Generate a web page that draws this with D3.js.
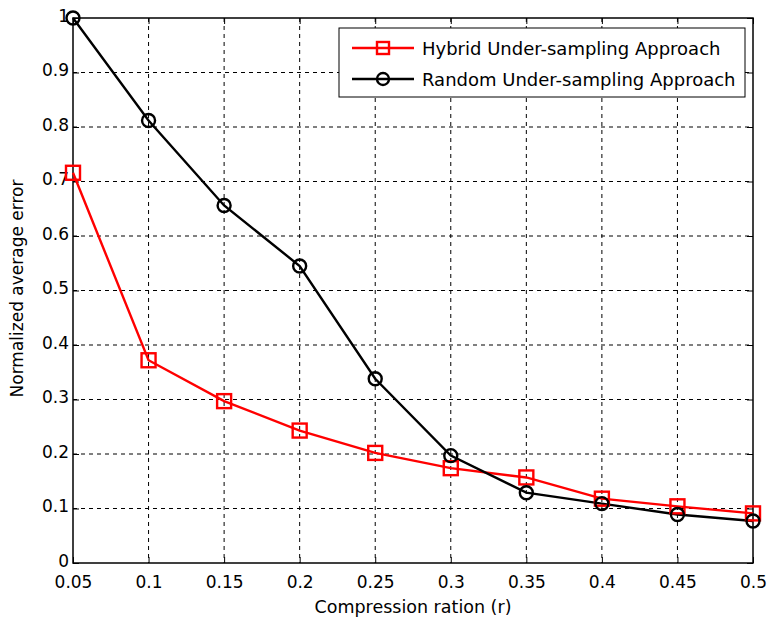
<!DOCTYPE html>
<html>
<head>
<meta charset="utf-8">
<script src="https://cdn.jsdelivr.net/npm/d3@7"></script>
<style>
  body { margin: 0; background: #fff; }
  svg { display: block; font-family: "DejaVu Sans", sans-serif; }
</style>
</head>
<body>
<svg width="771" height="621"></svg>
<script>
// Données du graphique
const ratios = [0.05, 0.1, 0.15, 0.2, 0.25, 0.3, 0.35, 0.4, 0.45, 0.5];
const hybrid = [0.716, 0.372, 0.297, 0.243, 0.202, 0.174, 0.157, 0.118, 0.104, 0.091];
const random = [1.0, 0.812, 0.656, 0.545, 0.338, 0.197, 0.129, 0.109, 0.089, 0.077];
const yTicks = [0, 0.1, 0.2, 0.3, 0.4, 0.5, 0.6, 0.7, 0.8, 0.9, 1];
const xTickLabels = ["0.05", "0.1", "0.15", "0.2", "0.25", "0.3", "0.35", "0.4", "0.45", "0.5"];
const seriesNames = ["Hybrid Under-sampling Approach", "Random Under-sampling Approach"];

const svg = d3.select("svg");
const mLeft = 73, mRight = 753, mTop = 18, mBottom = 563;

const x = d3.scaleLinear().domain([0.05, 0.5]).range([mLeft, mRight]);
const y = d3.scaleLinear().domain([0, 1]).range([mBottom, mTop]);

// Grille en pointillés
const grid = svg.append("g").attr("stroke", "#000").attr("stroke-width", 1)
    .attr("stroke-dasharray", "4,4");
grid.selectAll("line.v").data(ratios.slice(1, -1)).enter().append("line")
    .attr("x1", d => x(d)).attr("x2", d => x(d))
    .attr("y1", mTop).attr("y2", mBottom);
grid.selectAll("line.h").data(yTicks.slice(1, -1)).enter().append("line")
    .attr("x1", mLeft).attr("x2", mRight)
    .attr("y1", d => y(d)).attr("y2", d => y(d));

// Axes (ticks vers l'intérieur)
svg.append("g").attr("transform", `translate(0,${mBottom})`)
    .call(d3.axisBottom(x).tickValues(ratios).tickSize(-6).tickPadding(13)
        .tickFormat((d, i) => xTickLabels[i]));
svg.append("g").attr("transform", `translate(${mLeft},-2)`)
    .call(d3.axisLeft(y).tickValues(yTicks).tickSize(0).tickPadding(4)
        .tickFormat(d3.format("")));
svg.append("g").attr("transform", `translate(${mLeft},0)`)
    .call(d3.axisLeft(y).tickValues(yTicks).tickSize(-6).tickFormat(""));
svg.append("g").attr("transform", `translate(0,${mTop})`)
    .call(d3.axisTop(x).tickValues(ratios).tickSize(-6).tickFormat(""));
svg.append("g").attr("transform", `translate(${mRight},0)`)
    .call(d3.axisRight(y).tickValues(yTicks).tickSize(-6).tickFormat(""));

svg.selectAll(".domain").remove();
svg.selectAll(".tick line").attr("stroke", "#000");
svg.selectAll(".tick text").attr("font-size", 17).attr("fill", "#000")
    .attr("font-family", "DejaVu Sans");

// Cadre
svg.append("rect").attr("x", mLeft).attr("y", mTop)
    .attr("width", mRight - mLeft).attr("height", mBottom - mTop)
    .attr("fill", "none").attr("stroke", "#000").attr("stroke-width", 1.5);

// Séries
const line = d3.line().x((d, i) => x(ratios[i])).y(d => y(d));

svg.append("path").datum(hybrid).attr("d", line)
    .attr("fill", "none").attr("stroke", "#ff0000").attr("stroke-width", 2.4);
svg.append("path").datum(random).attr("d", line)
    .attr("fill", "none").attr("stroke", "#000").attr("stroke-width", 2.4);

svg.append("g").selectAll("rect").data(hybrid).enter().append("rect")
    .attr("x", (d, i) => x(ratios[i]) - 7).attr("y", d => y(d) - 7)
    .attr("width", 14).attr("height", 14)
    .attr("fill", "none").attr("stroke", "#ff0000").attr("stroke-width", 2.4);
svg.append("g").selectAll("circle").data(random).enter().append("circle")
    .attr("cx", (d, i) => x(ratios[i])).attr("cy", d => y(d)).attr("r", 6.5)
    .attr("fill", "none").attr("stroke", "#000").attr("stroke-width", 2.4);

// Titres des axes
svg.append("text").attr("x", (mLeft + mRight) / 2).attr("y", 613)
    .attr("text-anchor", "middle").attr("font-size", 17.5)
    .text("Compression ration (r)");
svg.append("text").attr("transform", `translate(23,${(mTop + mBottom) / 2 - 2}) rotate(-90)`)
    .attr("text-anchor", "middle").attr("font-size", 17)
    .text("Normalized average error");

// Légende
const legend = svg.append("g");
legend.append("rect").attr("x", 339).attr("y", 28).attr("width", 406).attr("height", 69)
    .attr("fill", "#fff").attr("stroke", "#000").attr("stroke-width", 1);
const rowsY = [48, 79];
rowsY.forEach((ry, i) => {
    const col = i === 0 ? "#ff0000" : "#000";
    legend.append("line").attr("x1", 352).attr("x2", 414).attr("y1", ry).attr("y2", ry)
        .attr("stroke", col).attr("stroke-width", 2.4);
    if (i === 0) {
        legend.append("rect").attr("x", 377).attr("y", ry - 6).attr("width", 12).attr("height", 12)
            .attr("fill", "none").attr("stroke", col).attr("stroke-width", 2.4);
    } else {
        legend.append("circle").attr("cx", 383).attr("cy", ry).attr("r", 6)
            .attr("fill", "none").attr("stroke", col).attr("stroke-width", 2.4);
    }
    legend.append("text").attr("x", 422).attr("y", ry + 6.5).attr("font-size", 18)
        .text(seriesNames[i]);
});
</script>
</body>
</html>
